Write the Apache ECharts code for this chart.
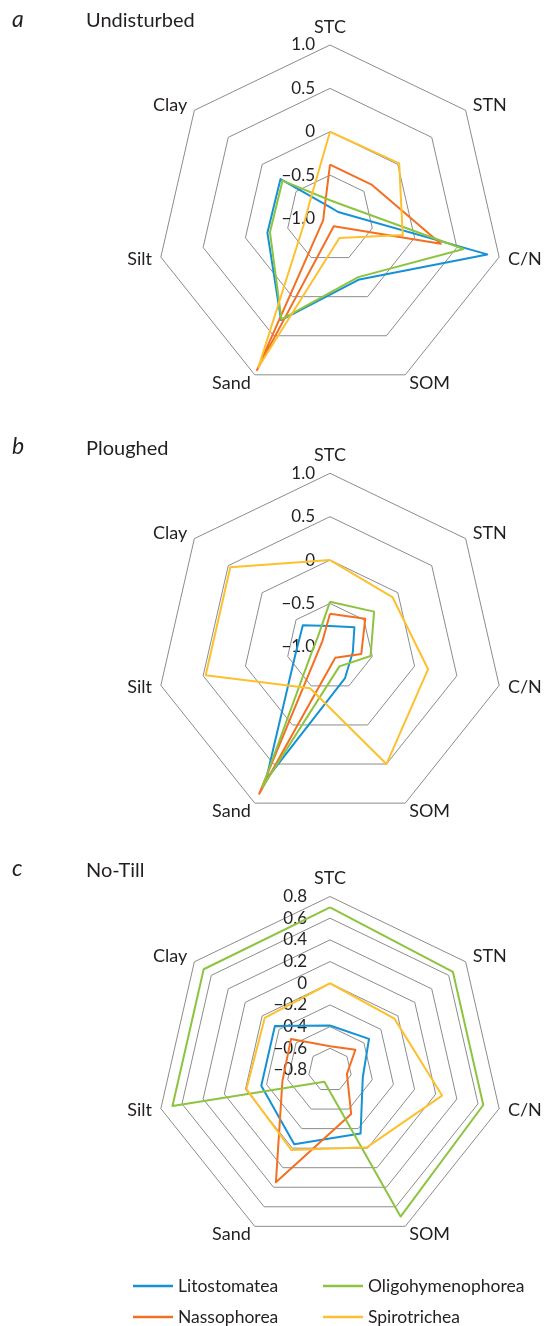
<!DOCTYPE html>
<html>
<head>
<meta charset="utf-8">
<script src="https://cdn.jsdelivr.net/npm/echarts@6/dist/echarts.min.js"></script>
<style>
html, body { margin: 0; padding: 0; background: #ffffff; }
#chart { width: 544px; height: 1326px; }
</style>
</head>
<body>
<div id="chart"></div>
<script>
// Axis categories (clockwise from top, as in the figure)
const indicators = ['STC', 'STN', 'C/N', 'SOM', 'Sand', 'Silt', 'Clay'];
const seriesNames = ['Litostomatea', 'Nassophorea', 'Oligohymenophorea', 'Spirotrichea'];
const seriesColors = ['#1692d4', '#f36f21', '#8dc43f', '#fdc02f'];
const panelLetters = ['a', 'b', 'c'];
const panelTitles = ['Undisturbed', 'Ploughed', 'No-Till'];

// Axis ranges per panel
const panelMin = [-1.0, -1.0, -0.8];
const panelMax = [1.0, 1.0, 0.8];
const panelSplits = [4, 4, 8];

// Values: STC, STN, C/N, SOM, Sand, Silt, Clay
// a  Undisturbed
const undisturbedLitostomatea      = [-0.87, -0.88, 0.86, -0.22, 0.30, -0.26, -0.27];
const undisturbedNassophorea       = [-0.38, -0.38, 0.31, -0.90, 0.94, -0.92, -0.91];
const undisturbedOligohymenophorea = [-0.79, -0.77, 0.58, -0.25, 0.29, -0.29, -0.30];
const undisturbedSpirotrichea      = [0.00, 0.02, -0.14, -0.75, 0.90, -0.69, -0.70];
// b  Ploughed
const ploughedLitostomatea      = [-0.76, -0.64, -0.73, -0.60, 0.70, -0.59, -0.60];
const ploughedNassophorea       = [-0.62, -0.48, -0.63, -0.86, 0.88, -0.87, -0.89];
const ploughedOligohymenophorea = [-0.48, -0.35, -0.52, -0.75, 0.80, -0.79, -0.82];
const ploughedSpirotrichea      = [0.00, -0.08, 0.16, 0.50, -0.47, 0.47, 0.47];
// c  No-Till
const noTillLitostomatea      = [-0.39, -0.34, -0.49, -0.15, -0.04, -0.15, -0.15];
const noTillNassophorea       = [-0.58, -0.50, -0.64, -0.35, 0.35, -0.35, -0.34];
const noTillOligohymenophorea = [0.70, 0.65, 0.65, 0.70, -0.68, 0.69, 0.69];
const noTillSpirotrichea      = [0.00, -0.04, 0.26, -0.01, 0.02, -0.01, -0.03];

const panelData = [
  [undisturbedLitostomatea, undisturbedNassophorea, undisturbedOligohymenophorea, undisturbedSpirotrichea],
  [ploughedLitostomatea, ploughedNassophorea, ploughedOligohymenophorea, ploughedSpirotrichea],
  [noTillLitostomatea, noTillNassophorea, noTillOligohymenophorea, noTillSpirotrichea]
];

// layout
const FONT = 'Lato';
const TEXT = '#231f20';
const centersY = [218.5, 646.8, 1070];
const labelMargins = [15, 15, 23];
const titleCenters = [22, 449.5, 871.5];
// ECharts radar lays indicators counter-clockwise; reorder to get the clockwise figure order
const order = [0, 6, 5, 4, 3, 2, 1];

function tickFmt(v) {
  if (Math.abs(v) < 1e-9) return '0';
  return (Math.round(v * 10) / 10).toFixed(1).replace('-', '\u2212');
}

const radar = panelTitles.map(function (t, i) {
  return {
    center: [330, centersY[i]],
    radius: 173.5,
    startAngle: 90,
    shape: 'polygon',
    splitNumber: panelSplits[i],
    nameGap: 9,
    axisName: { color: TEXT, fontFamily: FONT, fontSize: 18 },
    indicator: order.map(function (k, j) {
      const ind = { name: indicators[k], min: panelMin[i], max: panelMax[i] };
      if (j === 0) {
        ind.axisLabel = {
          show: true, margin: labelMargins[i], color: TEXT,
          fontFamily: FONT, fontSize: 17, formatter: tickFmt
        };
      }
      return ind;
    }),
    axisLine: { show: false },
    axisTick: { show: false },
    axisLabel: { show: false },
    splitLine: { lineStyle: { color: '#8c8c8c', width: 1 } },
    splitArea: { show: false }
  };
});

const series = panelTitles.map(function (t, i) {
  return {
    type: 'radar',
    radarIndex: i,
    symbol: 'none',
    silent: true,
    data: seriesNames.map(function (n, s) {
      return {
        name: n,
        value: order.map(function (k) { return panelData[i][s][k]; }),
        lineStyle: { color: seriesColors[s], width: 2 },
        itemStyle: { color: seriesColors[s] },
        areaStyle: { opacity: 0 }
      };
    })
  };
});

const titles = [];
panelTitles.forEach(function (t, i) {
  titles.push({
    text: panelLetters[i], left: 12, top: titleCenters[i] - 14, padding: 0,
    textStyle: { fontFamily: FONT, fontStyle: 'italic', fontWeight: 'normal', fontSize: 23, color: TEXT }
  });
  titles.push({
    text: t, left: 86, top: titleCenters[i] - 11, padding: 0,
    textStyle: { fontFamily: FONT, fontWeight: 'normal', fontSize: 20, color: TEXT }
  });
});

const legendCommon = {
  orient: 'vertical', top: 1277, padding: 0,
  itemWidth: 40, itemHeight: 2.5, itemGap: 13, icon: 'rect',
  selectedMode: false,
  textStyle: { fontFamily: FONT, fontSize: 17.5, color: TEXT }
};

const option = {
  animation: false,
  backgroundColor: '#ffffff',
  title: titles,
  legend: [
    Object.assign({}, legendCommon, { left: 133, data: [seriesNames[0], seriesNames[1]] }),
    Object.assign({}, legendCommon, { left: 323, data: [seriesNames[2], seriesNames[3]] })
  ],
  radar: radar,
  series: series
};

const chart = echarts.init(document.getElementById('chart'), null, { renderer: 'canvas' });
chart.setOption(option);
</script>
</body>
</html>
